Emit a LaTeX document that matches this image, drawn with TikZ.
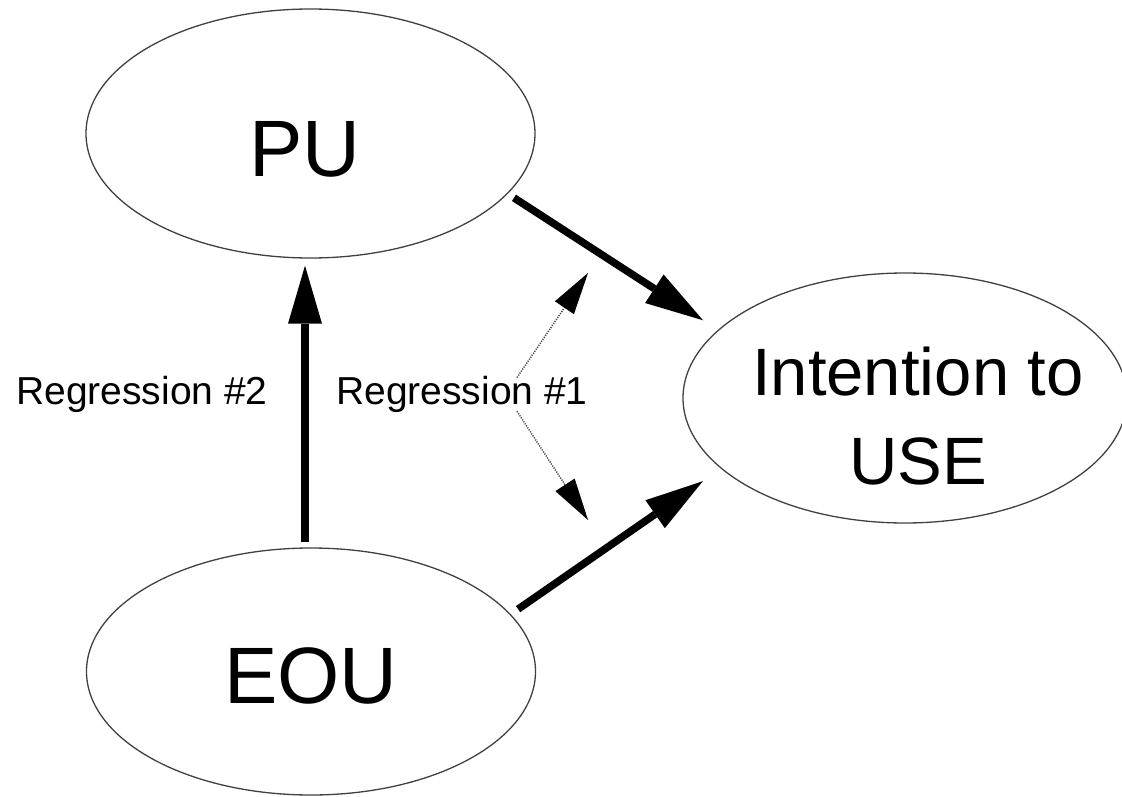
\documentclass[tikz,border=0pt]{standalone}
\usepackage{fontspec}
\setmainfont{Liberation Sans}
\usetikzlibrary{arrows.meta,shapes.geometric}

\tikzset{
  bubble/.style={ellipse, draw=black!75, line width=1.3pt, inner sep=0pt},
  bigtext/.style={inner sep=0pt, font=\fontsize{80}{96}\selectfont},
  midtext/.style={inner sep=0pt, align=center, font=\fontsize{67}{89}\selectfont},
  smalltext/.style={inner sep=0pt, font=\fontsize{39}{46}\selectfont},
  heavy/.style={line width=7.5pt,
    -{Triangle[length=58pt,width=34pt,line width=0pt]}},
  faint/.style={line width=1.5pt, black!70, dash pattern=on 1.2pt off 1.2pt,
    -{Triangle[length=42pt,width=23pt,line width=0pt,color=black]}}
}

\begin{document}
\begin{tikzpicture}[x=1pt,y=-1pt]
  \useasboundingbox (0,0) rectangle (1122,797);

  % the three constructs
  \node[bubble, minimum width=449pt, minimum height=249pt] (pu)  at (310.5,133.5) {};
  \node[bubble, minimum width=449pt, minimum height=247pt] (eou) at (311,671.5) {};
  \node[bubble, minimum width=444pt, minimum height=250pt] (iu)  at (905,398) {};

  \node[bigtext, anchor=base] (putext)  at (305,176) {PU};
  \node[bigtext, anchor=base] (eoutext) at (311,703) {EOU};
  \node[midtext, anchor=north] (iutext) at (918,347) {Intention to\\USE};

  % regression labels
  \node[smalltext, anchor=base] (reg2) at (142,404) {Regression \#2};
  \node[smalltext, anchor=base] (reg1) at (462,404) {Regression \#1};

  % free ends of the dotted pointers
  \coordinate (upend) at (588,273);
  \coordinate (dnend) at (588,520);

  % causal paths
  \draw[heavy, shorten <=5pt, shorten >=7pt]
    ([xshift=-6pt]eou.north) -- ([xshift=-5.5pt]pu.south);
  \draw[heavy, shorten <=7.4pt, shorten >=17.7pt] (pu.-17.1) -- (iu.160.6);
  \draw[heavy, shorten <=8.9pt, shorten >=22pt] (eou.16.9) -- (iu.201.6);

  % regression #1 pointers
  \draw[faint] ([xshift=55pt,yshift=-2pt]reg1.north) -- (upend);
  \draw[faint] ([xshift=55pt,yshift=1pt]reg1.south) -- (dnend);
\end{tikzpicture}
\end{document}
